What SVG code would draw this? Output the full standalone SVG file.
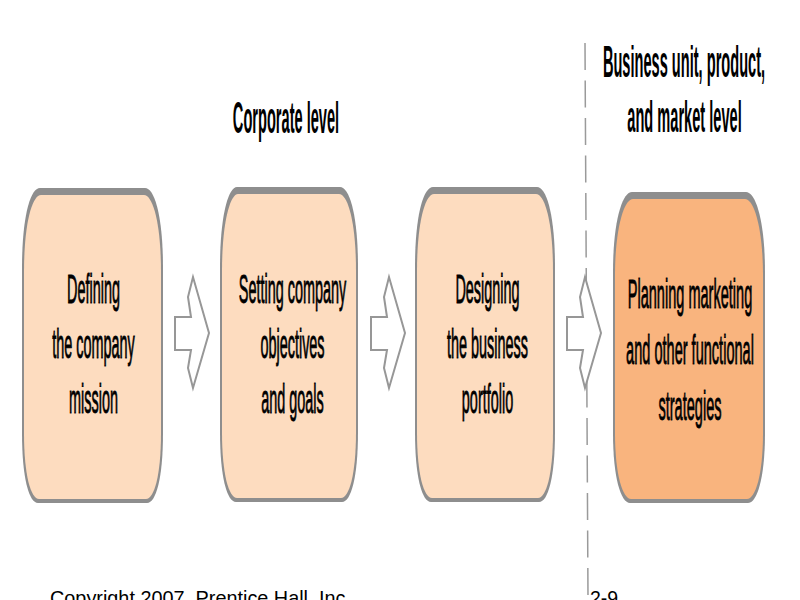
<svg xmlns="http://www.w3.org/2000/svg" xmlns:xlink="http://www.w3.org/1999/xlink" width="800" height="600" viewBox="0 0 800 600">
<style>
.hdr{font-family:"Liberation Sans",Arial,sans-serif;font-weight:bold;font-size:44px;fill:#000;text-anchor:middle}
.lbl{font-family:"Liberation Sans",Arial,sans-serif;font-size:41px;fill:#000;stroke:#000;stroke-width:0.9;text-anchor:middle}
.foot{font-family:"Liberation Sans",Arial,sans-serif;font-size:21px;fill:#000}
.rim{fill:#8e8e8e}
.light{fill:#FDDCBF}
.dark{fill:#F9B47E}
.arrow{fill:#fff;stroke:#979797;stroke-width:2;stroke-linejoin:miter}
</style>
<defs>
<path id="arr" d="M567,317 L583,317 L580,297 L585,277 L601,333 L585,388 L580,368 L583,350 L567,350 Z"/>
</defs>
<rect width="800" height="600" fill="#fff"/>
<g id="divider">
<line x1="585" y1="43" x2="588" y2="598" stroke="#9a9a9a" stroke-width="1.5" stroke-dasharray="27 10.5"/>
</g>
<g id="header-corporate">
<text class="hdr" transform="translate(286,133) scale(0.332,1)">Corporate level</text>
</g>
<g id="header-business">
<text class="hdr" transform="translate(684,77) scale(0.332,1)">Business unit, product,</text>
<text class="hdr" transform="translate(684.5,132) scale(0.332,1)">and market level</text>
</g>
<g id="node1">
<path class="rim" d="M40,188 H145 C155,188 163,218 163,268 V433 C163,478 156,503 147,503 H38 C29,503 22,478 22,433 V268 C22,218 30,188 40,188 Z"/>
<path class="light" d="M41,195 H144 C153,195 161,224 161,272 V433 C161,476 154,499 146,499 H39 C31,499 24,476 24,433 V272 C24,224 32,195 41,195 Z"/>
<g transform="translate(93.5,0) scale(0.352,1)">
<text class="lbl" x="0" y="303">Defining</text>
<text class="lbl" x="0" y="358">the company</text>
<text class="lbl" x="0" y="413">mission</text>
</g>
</g>
<g id="node2">
<path class="rim" d="M237,187 H340 C350,187 358,217 358,267 V432 C358,477 351,502 342,502 H236 C227,502 220,477 220,432 V267 C220,217 228,187 237,187 Z"/>
<path class="light" d="M238,194 H339 C348,194 356,223 356,271 V432 C356,475 349,498 341,498 H237 C229,498 222,475 222,432 V271 C222,223 230,194 238,194 Z"/>
<g transform="translate(292.5,0) scale(0.352,1)">
<text class="lbl" x="0" y="303">Setting company</text>
<text class="lbl" x="0" y="358">objectives</text>
<text class="lbl" x="0" y="413">and goals</text>
</g>
</g>
<g id="node3">
<path class="rim" d="M433,187 H537 C547,187 555,217 555,267 V432 C555,477 548,502 539,502 H431 C422,502 415,477 415,432 V267 C415,217 423,187 433,187 Z"/>
<path class="light" d="M434,194 H536 C545,194 553,223 553,271 V432 C553,475 546,498 538,498 H432 C424,498 417,475 417,432 V271 C417,223 425,194 434,194 Z"/>
<g transform="translate(487.5,0) scale(0.352,1)">
<text class="lbl" x="0" y="303">Designing</text>
<text class="lbl" x="0" y="358">the business</text>
<text class="lbl" x="0" y="413">portfolio</text>
</g>
</g>
<g id="node4">
<path class="rim" d="M632,192 H746 C756,192 765,222 765,272 V433 C765,478 757,503 748,503 H630 C621,503 613,478 613,433 V272 C613,222 622,192 632,192 Z"/>
<path class="dark" d="M633,199 H745 C754,199 763,228 763,276 V433 C763,476 755,499 747,499 H631 C623,499 615,476 615,433 V276 C615,228 624,199 633,199 Z"/>
<g transform="translate(690,0) scale(0.355,1)">
<text class="lbl" x="0" y="308">Planning marketing</text>
<text class="lbl" x="0" y="364">and other functional</text>
<text class="lbl" x="0" y="420">strategies</text>
</g>
</g>
<g id="connectors">
<use xlink:href="#arr" href="#arr" class="arrow" transform="translate(-392,0)"/>
<use xlink:href="#arr" href="#arr" class="arrow" transform="translate(-196,0)"/>
<use xlink:href="#arr" href="#arr" class="arrow"/>
</g>
<g id="footer">
<text class="foot" transform="translate(50,605) scale(0.945,1)">Copyright 2007, Prentice Hall, Inc.</text>
<text class="foot" transform="translate(590,605) scale(0.93,1)">2-9</text>
</g>
</svg>
